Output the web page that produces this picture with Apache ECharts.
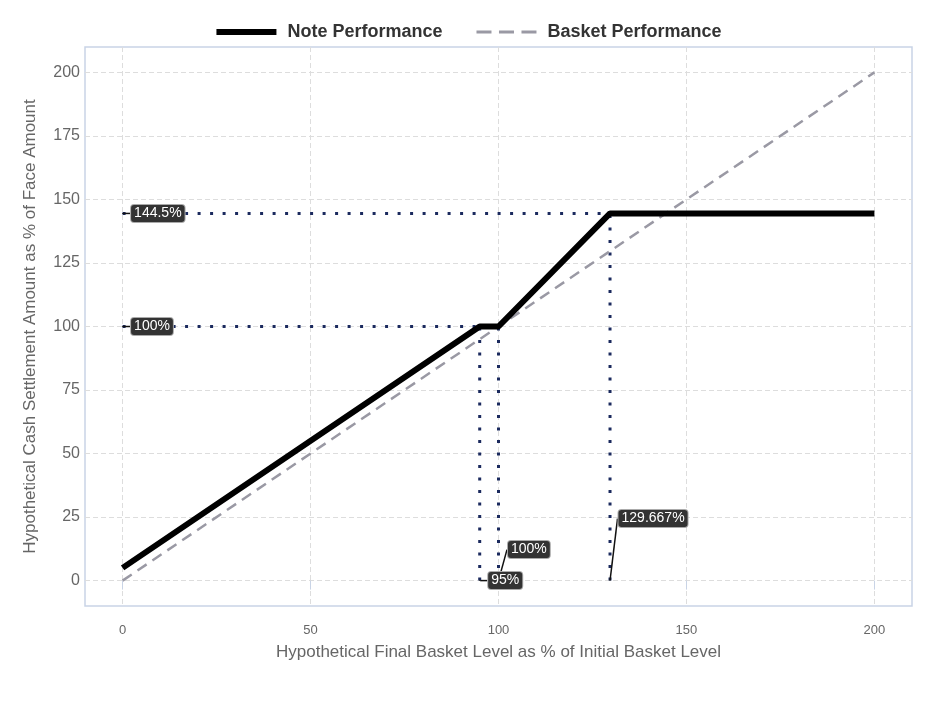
<!DOCTYPE html>
<html>
<head>
<meta charset="utf-8">
<script src="https://cdn.jsdelivr.net/npm/echarts@6/dist/echarts.min.js"></script>
<style>
  html, body { margin: 0; padding: 0; background: #fff; }
  #chart { width: 938px; height: 703px; }
</style>
</head>
<body>
<div id="chart"></div>
<script>
// 曲线数据
const notePoints = [[0, 5], [95, 100], [100, 100], [129.667, 144.5], [200, 144.5]];
const basketPoints = [[0, 0], [200, 200]];

// 关键点 (x, y)
const kinkX = [95, 100, 129.667];
const kinkY = [100, 100, 144.5];
const levelY = [144.5, 100];
const levelEndX = [129.667, 95];

// 刻度
const xTicks = [0, 50, 100, 150, 200];
const yTicks = [0, 25, 50, 75, 100, 125, 150, 175, 200];

const DOT_COLOR = '#1b2a5e';
const GRAY = '#666';
const FONT = 'Liberation Sans, Arial, sans-serif';

// 点线参考线
const dotStyle = { color: DOT_COLOR, width: 3, type: [3, 9.5] };
const refSeries = [];
levelY.forEach((y, i) => {
    refSeries.push({
        type: 'line', silent: true, symbol: 'none', z: 1,
        data: [[0, y], [levelEndX[i], y]],
        lineStyle: dotStyle
    });
});
kinkX.forEach((x, i) => {
    refSeries.push({
        type: 'line', silent: true, symbol: 'none', z: 1,
        data: [[x, 0], [x, kinkY[i]]],
        lineStyle: dotStyle
    });
});

// 标签样式
const tagStyle = {
    show: true,
    position: 'right',
    distance: 0,
    color: '#fff',
    fontSize: 14,
    fontFamily: FONT,
    backgroundColor: '#333',
    borderColor: '#aaa',
    borderWidth: 1,
    borderRadius: 3,
    padding: [2, 3, 1, 3]
};
const tagLine = { show: true, lineStyle: { color: '#111', width: 1.5, opacity: 1 } };

// 标签偏移
const tagOffsets = [[8, 0], [8, 0], [8, 0], [9, -31], [8, -62]];

const tagData = [
    { value: [0, levelY[0]], text: levelY[0] + '%' },
    { value: [0, levelY[1]], text: levelY[1] + '%' },
    { value: [kinkX[0], 0], text: kinkX[0] + '%' },
    { value: [kinkX[1], 0], text: kinkX[1] + '%' },
    { value: [kinkX[2], 0], text: kinkX[2] + '%' }
];

const chart = echarts.init(document.getElementById('chart'));

chart.setOption({
    animation: false,
    legend: {
        top: 18,
        left: 'center',
        itemWidth: 60,
        itemHeight: 14,
        itemGap: 34,
        textStyle: { fontSize: 18, fontWeight: 'bold', color: '#333', fontFamily: FONT, padding: [0, 0, 0, 6] },
        data: [
            { name: 'Note Performance', icon: 'path://M0,0 L60,0 L60,6 L0,6 Z', itemStyle: { color: '#000' } },
            { name: 'Basket Performance', icon: 'path://M0,0 L14,0 L14,3 L0,3 Z M21,0 L35,0 L35,3 L21,3 Z M42,0 L56,0 L56,3 L42,3 Z', itemStyle: { color: '#9a99a4' } }
        ]
    },
    grid: {
        left: 85, right: 26, top: 47, bottom: 97,
        show: true,
        borderColor: '#c9d4e6',
        borderWidth: 1.5
    },
    xAxis: {
        type: 'value',
        min: -10, max: 210,
        name: 'Hypothetical Final Basket Level as % of Initial Basket Level',
        nameLocation: 'middle',
        nameGap: 38,
        nameTextStyle: { color: GRAY, fontSize: 17, fontFamily: FONT },
        axisLine: { show: false },
        axisTick: { show: true, customValues: xTicks, length: 9, lineStyle: { color: '#c9d4e6' } },
        axisLabel: { customValues: xTicks, color: GRAY, fontSize: 13, margin: 18, fontFamily: 'Liberation Sans Narrow, Arial Narrow, sans-serif' },
        splitLine: { show: true, customValues: xTicks, lineStyle: { color: '#ddd', type: [5, 3] } }
    },
    yAxis: {
        type: 'value',
        min: -10, max: 210,
        name: 'Hypothetical Cash Settlement Amount as % of Face Amount',
        nameLocation: 'middle',
        nameGap: 46,
        nameTextStyle: { color: GRAY, fontSize: 17, fontFamily: FONT },
        axisLine: { show: false },
        axisTick: { show: false, customValues: yTicks },
        axisLabel: { customValues: yTicks, color: GRAY, fontSize: 16, margin: 5, fontFamily: FONT },
        splitLine: { show: true, customValues: yTicks, lineStyle: { color: '#ddd', type: [5, 3] } }
    },
    series: [
        {
            name: 'Note Performance',
            type: 'line',
            symbol: 'none',
            z: 3,
            data: notePoints,
            lineStyle: { color: '#000', width: 6 },
            itemStyle: { color: '#000' }
        },
        {
            name: 'Basket Performance',
            type: 'line',
            symbol: 'none',
            z: 2,
            data: basketPoints,
            lineStyle: { color: '#9a99a4', width: 2.5, type: [11, 7] },
            itemStyle: { color: '#9a99a4' }
        },
        ...refSeries,
        {
            type: 'scatter',
            silent: true,
            z: 5,
            symbolSize: 1,
            itemStyle: { color: '#111', opacity: 1 },
            data: tagData.map(d => ({ value: d.value, text: d.text })),
            label: Object.assign({}, tagStyle, { formatter: p => p.data.text }),
            labelLine: tagLine,
            labelLayout: function (params) {
                const o = tagOffsets[params.dataIndex];
                return { dx: o[0], dy: o[1] };
            }
        }
    ]
});
</script>
</body>
</html>
